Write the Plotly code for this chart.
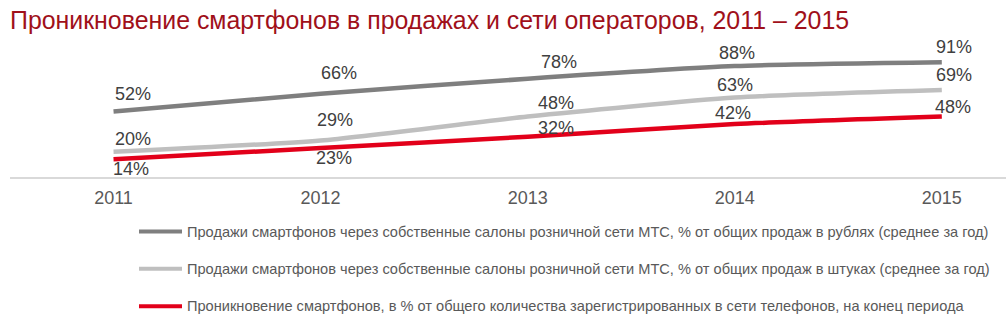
import plotly.graph_objects as go

# ---- data ----
years = ["2011", "2012", "2013", "2014", "2015"]
rub_share = [52, 66, 78, 88, 91]
unit_share = [20, 29, 48, 63, 69]
penetration = [14, 23, 32, 42, 48]
series_names = [
    "Продажи смартфонов через собственные салоны розничной сети МТС, % от общих продаж в рублях (среднее за год)",
    "Продажи смартфонов через собственные салоны розничной сети МТС, % от общих продаж в штуках (среднее за год)",
    "Проникновение смартфонов, в % от общего количества зарегистрированных в сети телефонов, на конец периода",
]
title_text = "Проникновение смартфонов в продажах и сети операторов, 2011 – 2015"

# ---- styles ----
colors = ["#7F7F7F", "#BFBFBF", "#E2001A"]
label_color = "#404040"
axis_text_color = "#595959"
title_color = "#A0101A"
FONT = "Arial, Liberation Sans, sans-serif"

# label offsets (px) per series/point: (dx, dy_down)
label_offsets = [
    [(19, -17), (18, -21), (31, -17), (2, -13), (12, -15)],
    [(19, -13), (14, -20), (28, -14), (0, -13), (12, -15)],
    [(17, 10), (13, 10), (28, -9), (-2, -11), (11, -10)],
]

series = [rub_share, unit_share, penetration]
xs = list(range(len(years)))

W, H = 1006, 328
M_L, M_R, M_T, M_B = 10, 0, 51, 151.4
plot_w = W - M_L - M_R
plot_h = H - M_T - M_B

fig = go.Figure()
annotations = []
shapes = []
for i, vals in enumerate(series):
    fig.add_trace(go.Scatter(
        x=xs, y=vals, mode="lines", name=series_names[i],
        line=dict(color=colors[i], width=4.5, shape="spline", smoothing=0.6),
        showlegend=False, hoverinfo="skip",
    ))
    for j, v in enumerate(vals):
        dx, dy = label_offsets[i][j]
        annotations.append(dict(
            x=xs[j], y=v, xref="x", yref="y", text=f"{v}%", showarrow=False,
            xshift=dx, yshift=-dy, xanchor="center", yanchor="middle",
            font=dict(family=FONT, size=18, color=label_color),
        ))

# manual legend (pixel rows converted to plot-area paper coords)
legend_rows_y = [231, 268, 305.5]
for i, name in enumerate(series_names):
    yv = (H - legend_rows_y[i] - M_B) / plot_h
    shapes.append(dict(
        type="line", xref="paper", yref="paper",
        x0=(139 - M_L) / plot_w, x1=(182 - M_L) / plot_w, y0=yv, y1=yv,
        line=dict(color=colors[i], width=4),
    ))
    annotations.append(dict(
        xref="paper", yref="paper", x=(185 - M_L) / plot_w, y=yv,
        text=name, showarrow=False, xanchor="left", yanchor="middle",
        font=dict(family=FONT, size=14.6, color=axis_text_color),
    ))

fig.update_layout(
    width=W, height=H,
    margin=dict(l=M_L, r=M_R, t=M_T, b=M_B, pad=0),
    paper_bgcolor="white", plot_bgcolor="white",
    title=dict(
        text=title_text, xref="container", yref="container",
        x=10 / W, xanchor="left", y=1 - 20.5 / H, yanchor="middle",
        font=dict(family=FONT, size=24.9, color=title_color),
    ),
    xaxis=dict(
        range=[-0.5, 4.31], tickmode="array", tickvals=xs, ticktext=years,
        showgrid=False, zeroline=False, showline=True,
        linecolor="#D9D9D9", linewidth=2, ticks="", ticklabelstandoff=3,
        tickfont=dict(family=FONT, size=18, color=axis_text_color),
        fixedrange=True,
    ),
    yaxis=dict(
        range=[0, 100], visible=False, showgrid=False, zeroline=False,
        fixedrange=True,
    ),
    annotations=annotations,
    shapes=shapes,
    showlegend=False,
)

fig.write_html("out.html", config={"displayModeBar": False})
